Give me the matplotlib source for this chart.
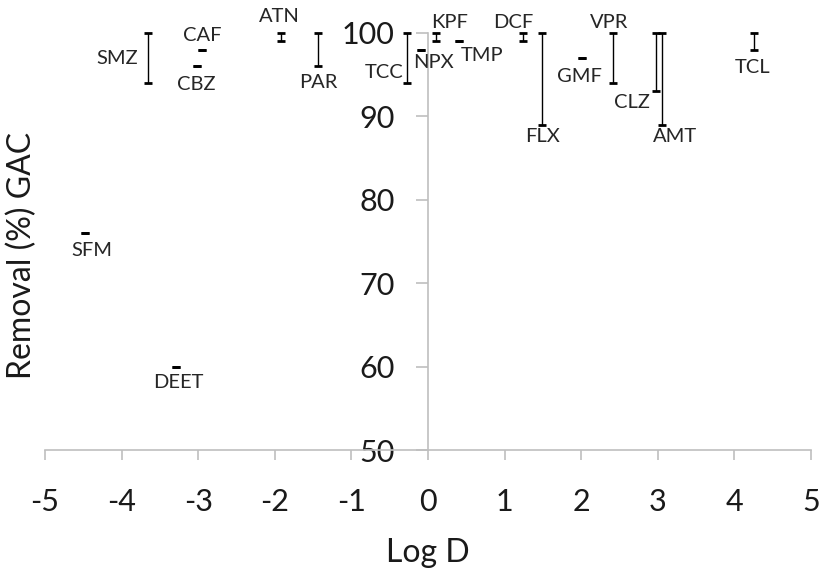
import matplotlib
matplotlib.use('Agg')
import matplotlib.pyplot as plt

plt.rcParams['font.family'] = ['Lato', 'DejaVu Sans']
plt.rcParams['axes.unicode_minus'] = False

# compounds, Log D and removal range (min, max) in %
names = ['SMZ', 'CAF', 'CBZ', 'ATN', 'PAR', 'TCC', 'NPX', 'KPF', 'TMP',
         'DCF', 'FLX', 'GMF', 'VPR', 'CLZ', 'AMT', 'TCL', 'SFM', 'DEET']
log_d = [-3.66, -2.95, -3.02, -1.92, -1.43, -0.27, -0.09, 0.11, 0.41,
         1.24, 1.49, 2.01, 2.41, 2.98, 3.05, 4.25, -4.48, -3.29]
rem_min = [94, 98, 96, 99, 96, 94, 98, 99, 99,
           99, 89, 97, 94, 93, 89, 98, 76, 60]
rem_max = [100, 98, 96, 100, 100, 100, 98, 100, 99,
           100, 100, 97, 100, 100, 100, 100, 76, 60]

# label placement: (dx, dy) in pixels from the bar end, anchor
lab_pos = {
    'SMZ': (-10, 0, 'mid', 'right', 'center'),
    'CAF': (0, 6, 'top', 'center', 'bottom'),
    'CBZ': (0, -10, 'bot', 'center', 'top'),
    'ATN': (-2, 8, 'top', 'center', 'bottom'),
    'PAR': (0, -8, 'bot', 'center', 'top'),
    'TCC': (-4, -14, 'mid', 'right', 'center'),
    'NPX': (12, -4, 'bot', 'center', 'top'),
    'KPF': (13, 2, 'top', 'center', 'bottom'),
    'TMP': (23, -6, 'bot', 'center', 'top'),
    'DCF': (-10, 2, 'top', 'center', 'bottom'),
    'FLX': (0, -3, 'bot', 'center', 'top'),
    'GMF': (-3, -10, 'bot', 'center', 'top'),
    'VPR': (-3, 2, 'top', 'center', 'bottom'),
    'CLZ': (-24, -3, 'bot', 'center', 'top'),
    'AMT': (13, -3, 'bot', 'center', 'top'),
    'TCL': (-1, -9, 'bot', 'center', 'top'),
    'SFM': (7, -9, 'bot', 'center', 'top'),
    'DEET': (2, -7, 'bot', 'center', 'top'),
}

fig = plt.figure(figsize=(8.22, 5.78), dpi=100)
ax = fig.add_axes([45 / 822, 1 - 450 / 578, 766 / 822, 417 / 578])

mid = [(a + b) / 2 for a, b in zip(rem_min, rem_max)]
half = [(b - a) / 2 for a, b in zip(rem_min, rem_max)]
ax.errorbar(log_d, mid, yerr=half, fmt='none', ecolor='black',
            elinewidth=1.0, capsize=3, capthick=2.0, clip_on=False)

for n, x, lo, hi in zip(names, log_d, rem_min, rem_max):
    dx, dy, ref, ha, va = lab_pos[n]
    y = {'top': hi, 'bot': lo, 'mid': (lo + hi) / 2}[ref]
    ax.annotate(n, (x, y), xytext=(dx * 0.72, dy * 0.72),
                textcoords='offset points', ha=ha, va=va,
                fontsize=14.5, color='#262626', annotation_clip=False)

ax.set_xlim(-5, 5)
ax.set_ylim(50, 100)
ax.set_xticks(range(-5, 6))
ax.set_yticks(range(50, 101, 10))

for s in ['top', 'right']:
    ax.spines[s].set_visible(False)
ax.spines['left'].set_position(('data', 0))
for s in ['left', 'bottom']:
    ax.spines[s].set_color('#bfbfbf')
    ax.spines[s].set_linewidth(1.2)

ax.tick_params(axis='x', direction='out', length=7.5, width=1.2,
               color='#bfbfbf', labelsize=22, pad=20, labelcolor='#1a1a1a')
ax.tick_params(axis='y', direction='out', length=9, width=1.2,
               color='#bfbfbf', labelsize=22, pad=15, labelcolor='#1a1a1a')

fig.text(428 / 822, 1 - 553 / 578, 'Log D', ha='center', va='center',
         fontsize=23, color='#1a1a1a')
fig.text(22 / 822, 1 - 255 / 578, 'Removal (%) GAC', ha='center',
         va='center', rotation=90, fontsize=23, color='#1a1a1a')

plt.savefig('out.png', dpi=100)
plt.close()
